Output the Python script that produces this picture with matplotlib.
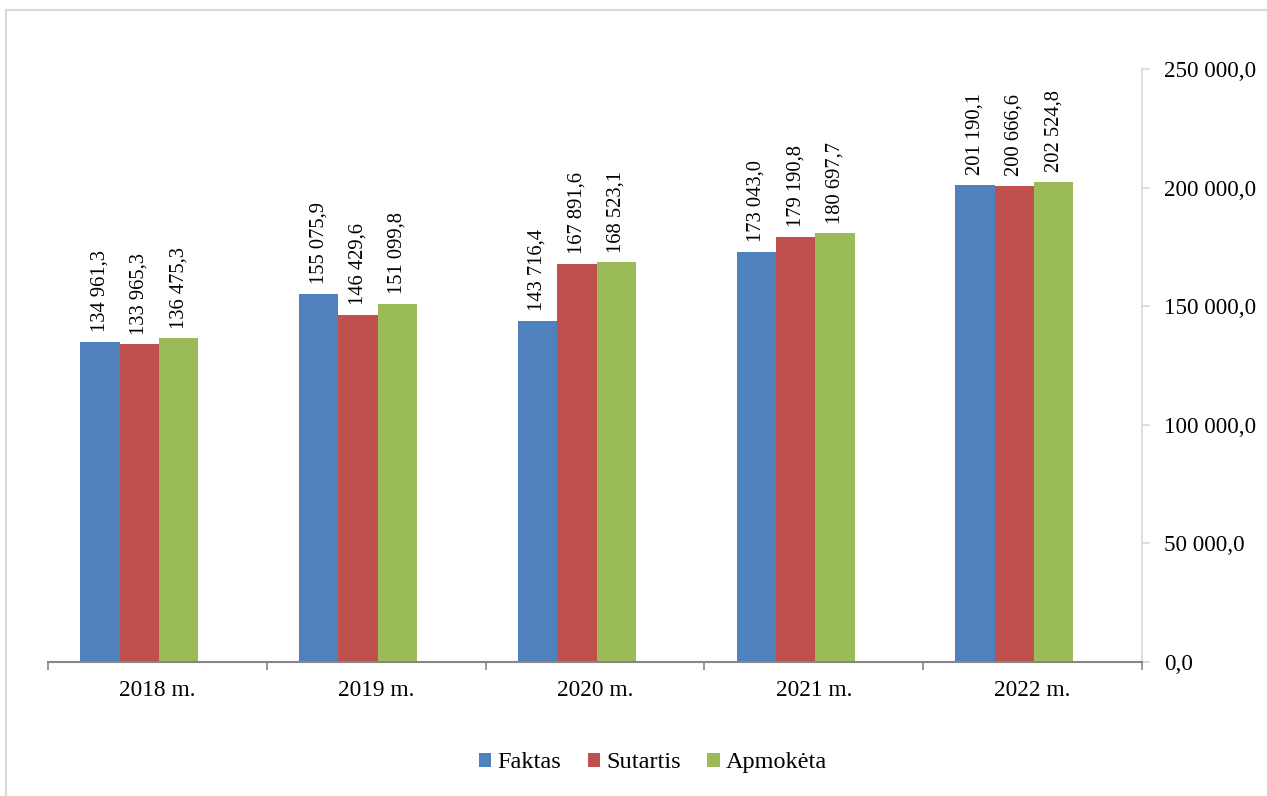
import numpy as np
import matplotlib
matplotlib.use("Agg")
from matplotlib import pyplot as plt
from matplotlib.patches import Rectangle
from matplotlib.ticker import FuncFormatter

plt.rcParams['font.family'] = ['Liberation Serif', 'DejaVu Serif']

years = ["2018 m.", "2019 m.", "2020 m.", "2021 m.", "2022 m."]
faktas = [134961.3, 155075.9, 143716.4, 173043.0, 201190.1]
sutartis = [133965.3, 146429.6, 167891.6, 179190.8, 200666.6]
apmoketa = [136475.3, 151099.8, 168523.1, 180697.7, 202524.8]

series = [("Faktas", faktas, "#4F81BD"),
          ("Sutartis", sutartis, "#C0504D"),
          ("Apmokėta", apmoketa, "#9BBB59")]


def lt_fmt(v):
    """number like 134 961,3"""
    s = f"{v:,.1f}"
    return s.replace(",", " ").replace(".", ",")


fig = plt.figure(figsize=(12.67, 7.96), dpi=100)
fig.patches.append(Rectangle((0.005, -0.01), 1.2, 0.998, transform=fig.transFigure,
                             fill=False, edgecolor="#D9D9D9", linewidth=1.5))
ax = fig.add_axes([0.0379, 0.1683, 0.8634, 0.745])

x = np.arange(len(years))
width = 0.18
offset = -0.083
for i, (name, vals, col) in enumerate(series):
    pos = x + offset + (i - 1) * width
    bars = ax.bar(pos, vals, width=width, color=col, label=name)
    for b, v in zip(bars, vals):
        ax.annotate(lt_fmt(v), (b.get_x() + b.get_width() / 2, b.get_height()),
                    xytext=(0, 7), textcoords="offset points", rotation=90,
                    ha="center", va="bottom", fontsize=14.8)

ax.set_xlim(-0.5, 4.5)
ax.set_ylim(0, 250000)
ax.set_xticks(x)
ax.set_xticklabels(years, fontsize=16.8)
ax.set_xticks(np.arange(-0.5, 5, 1), minor=True)
ax.tick_params(axis="x", which="major", length=0, pad=13)
ax.tick_params(axis="x", which="minor", length=6, color="#868686", width=1.2, direction="out")

ax.yaxis.tick_right()
ax.set_yticks(np.arange(0, 250001, 50000))
ax.yaxis.set_major_formatter(FuncFormatter(lambda v, p: lt_fmt(v)))
ax.tick_params(axis="y", length=6, color="#D9D9D9", width=1.2, labelsize=16.6, pad=10)

for s in ["top", "left"]:
    ax.spines[s].set_visible(False)
ax.spines["right"].set_color("#D9D9D9")
ax.spines["right"].set_linewidth(1.2)
ax.spines["bottom"].set_color("#868686")
ax.spines["bottom"].set_linewidth(1.5)

ax.legend(loc="center", bbox_to_anchor=(0.553, -0.17), ncol=3, frameon=False,
          fontsize=17.5, handlelength=0.5, handleheight=0.5, handletextpad=0.25,
          columnspacing=1.1)

plt.savefig("out.png", dpi=100)
